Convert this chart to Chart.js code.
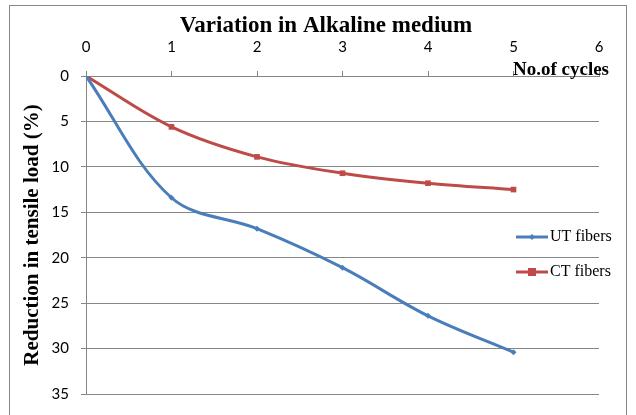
<!DOCTYPE html>
<html>
<head>
<meta charset="utf-8">
<script src="https://cdn.jsdelivr.net/npm/chart.js@4/dist/chart.umd.min.js"></script>
<style>
  html, body { margin: 0; padding: 0; background: #fff; }
  #wrap { width: 636px; height: 415px; }
</style>
</head>
<body>
<div id="wrap"><canvas id="alkChart"></canvas></div>
<script>
// Data
const cycles = [0, 1, 2, 3, 4, 5];
const utFibers = [0, 13.4, 16.8, 21.1, 26.4, 30.4];
const ctFibers = [0, 5.6, 8.9, 10.7, 11.8, 12.5];
const seriesNames = ['UT fibers', 'CT fibers'];
const chartTitle = 'Variation in Alkaline medium';
const xTitle = 'No.of cycles';
const yTitle = 'Reduction in tensile load (%)';

const blue = '#4A7EBB';
const red = '#BE4B48';
const grey = '#868686';
const tickFont = { family: 'Lato, "Open Sans", Arial, sans-serif', size: 15 };
const serif = '"Liberation Serif", "Times New Roman", serif';

// Frame, title, axis caption and legend drawn on top
const extras = {
    id: 'extras',
    afterDraw(chart) {
        const c = chart.ctx;
        c.save();
        c.strokeStyle = grey;
        c.lineWidth = 1;
        c.strokeRect(9.5, 5.5, 617, 420);

        c.fillStyle = '#000';
        c.textAlign = 'center';
        c.textBaseline = 'alphabetic';
        c.font = 'bold 23px ' + serif;
        c.fillText(chartTitle, 326, 32);

        c.textAlign = 'right';
        c.font = 'bold 19px ' + serif;
        c.fillText(xTitle, 609, 75);

        // legend
        const items = [
            { name: seriesNames[0], color: blue, y: 237, style: 'diamond' },
            { name: seriesNames[1], color: red, y: 272, style: 'square' }
        ];
        c.font = '16px ' + serif;
        c.textAlign = 'left';
        c.textBaseline = 'middle';
        items.forEach(it => {
            c.strokeStyle = it.color;
            c.lineWidth = 3;
            c.beginPath();
            c.moveTo(516, it.y);
            c.lineTo(548, it.y);
            c.stroke();
            c.fillStyle = it.color;
            if (it.style === 'square') {
                c.fillRect(528, it.y - 4, 8, 8);
            } else {
                c.beginPath();
                c.moveTo(532, it.y - 3);
                c.lineTo(535, it.y);
                c.lineTo(532, it.y + 3);
                c.lineTo(529, it.y);
                c.closePath();
                c.fill();
            }
            c.fillStyle = '#000';
            c.fillText(it.name, 550, it.y);
        });
        c.restore();
    }
};

new Chart(document.getElementById('alkChart'), {
    type: 'line',
    data: {
        datasets: [
            {
                label: seriesNames[0],
                data: cycles.map((x, i) => ({ x: x, y: utFibers[i] })),
                borderColor: blue,
                backgroundColor: blue,
                borderWidth: 3,
                tension: 0.35,
                pointStyle: 'rectRot',
                pointRadius: 3,
                pointBorderWidth: 0
            },
            {
                label: seriesNames[1],
                data: cycles.map((x, i) => ({ x: x, y: ctFibers[i] })),
                borderColor: red,
                backgroundColor: red,
                borderWidth: 3,
                tension: 0.35,
                pointStyle: 'rect',
                pointRadius: 4,
                pointBorderWidth: 0
            }
        ]
    },
    options: {
        responsive: true,
        maintainAspectRatio: false,
        animation: false,
        layout: { padding: { top: 0, right: 37, bottom: 21, left: 0 } },
        plugins: {
            legend: { display: false },
            title: { display: false },
            tooltip: { enabled: false }
        },
        scales: {
            x: {
                type: 'linear',
                position: 'top',
                min: 0,
                max: 6,
                afterFit: s => { s.height = 76; },
                ticks: { stepSize: 1, padding: 15, color: '#000', font: tickFont },
                grid: { drawOnChartArea: false, tickLength: 5, color: grey },
                border: { color: grey }
            },
            y: {
                reverse: true,
                min: 0,
                max: 35,
                afterFit: s => { s.width = 86; },
                ticks: { stepSize: 5, padding: 12, color: '#000', font: tickFont },
                grid: { tickLength: 5, color: grey },
                border: { color: grey },
                title: {
                    display: true,
                    text: yTitle,
                    color: '#000',
                    padding: { top: 20, bottom: 0 },
                    font: { family: serif, size: 21, weight: 'bold' }
                }
            }
        }
    },
    plugins: [extras]
});
</script>
</body>
</html>
